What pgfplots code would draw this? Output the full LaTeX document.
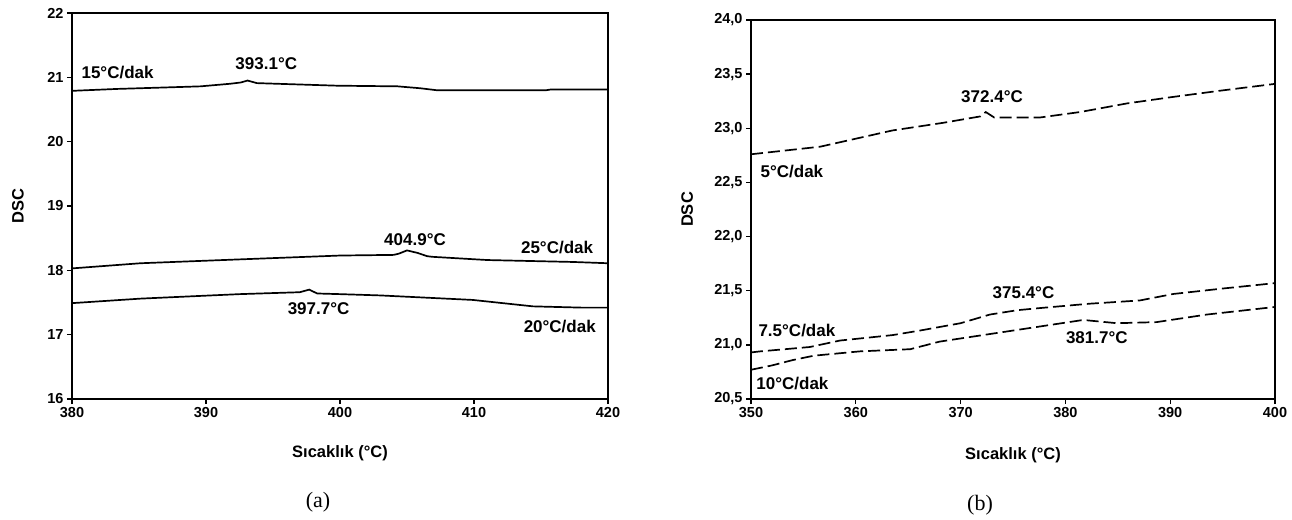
\documentclass[border=0pt]{standalone}
\usepackage{fontspec}
\setmainfont{Liberation Sans}
\newfontfamily\capfont{Liberation Serif}
\usepackage{pgfplots}
\pgfplotsset{compat=1.18}
\pgfplotsset{
  dscstyle/.style={
    scale only axis,
    tick align=outside, xtick pos=bottom, ytick pos=left,
    major tick length=5pt,
    axis line style={line width=1.8pt},
    every tick/.style={black, line width=1.3pt},
    tick label style={font=\fontsize{14.5}{16}\selectfont\bfseries},
    label style={font=\fontsize{16.5}{18}\selectfont\bfseries},
    /pgf/number format/assume math mode=true,
    clip=false,
  },
}
\tikzset{annot/.style={font=\fontsize{17}{19}\selectfont\bfseries, inner sep=0pt}}
\begin{document}
\begin{tikzpicture}[x=1pt,y=1pt]
\path[use as bounding box] (0,0) rectangle (1292,519);
% ---------- (a) ----------
\begin{axis}[dscstyle,
  at={(72pt,120pt)}, anchor=south west,
  width=536pt, height=386pt,
  xmin=380, xmax=420, ymin=16, ymax=22,
  xtick={380,390,400,410,420}, ytick={16,17,18,19,20,21,22},
  xlabel={Sıcaklık (°C)}, ylabel={DSC},
  xlabel style={at={(axis description cs:0.5,-0.14)}, anchor=center},
  ylabel style={at={(axis description cs:-0.101,0.5)}, anchor=center, rotate=0},
]
\addplot[black, line width=1.7pt] coordinates {
(380,20.79)(383.4,20.82)(385,20.83)(388.1,20.85)(389.6,20.86)(391.8,20.90)(392.6,20.92)(393.1,20.95)(393.8,20.91)(396.8,20.89)(399.8,20.87)(404.3,20.86)(406,20.83)(407.2,20.80)(415.4,20.80)(415.7,20.81)(420,20.81)};
\addplot[black, line width=1.7pt] coordinates {
(380,18.03)(385.1,18.11)(392.5,18.17)(400,18.23)(404,18.24)(404.4,18.26)(405.0,18.31)(405.8,18.27)(406.5,18.22)(406.9,18.21)(411,18.16)(417.4,18.13)(420,18.11)};
\addplot[black, line width=1.7pt] coordinates {
(380,17.49)(385.1,17.56)(392.5,17.63)(397,17.66)(397.7,17.70)(398.3,17.64)(400,17.63)(403,17.61)(409.9,17.54)(414.4,17.44)(418.1,17.42)(420,17.42)};
\node[annot, anchor=west] at (axis cs:380.7,21.07) {15°C/dak};
\node[annot] at (axis cs:394.5,21.22) {393.1°C};
\node[annot] at (axis cs:405.6,18.47) {404.9°C};
\node[annot] at (axis cs:416.2,18.36) {25°C/dak};
\node[annot] at (axis cs:398.4,17.41) {397.7°C};
\node[annot] at (axis cs:416.4,17.12) {20°C/dak};
\end{axis}
% ---------- (b) ----------
\begin{axis}[dscstyle,
  at={(751pt,120pt)}, anchor=south west,
  width=524pt, height=379pt,
  xmin=350, xmax=400, ymin=20.5, ymax=24,
  xtick={350,360,370,380,390,400},
  ytick={20.5,21,21.5,22,22.5,23,23.5,24},
  yticklabel style={/pgf/number format/.cd, use comma, fixed, fixed zerofill, precision=1},
  xlabel={Sıcaklık (°C)}, ylabel={DSC},
  xlabel style={at={(axis description cs:0.5,-0.148)}, anchor=center},
  ylabel style={at={(axis description cs:-0.122,0.5)}, anchor=center, rotate=0},
]
\addplot[black, line width=1.7pt, dash pattern=on 12pt off 5pt] coordinates {
(350,22.76)(356.6,22.83)(363.5,22.98)(368.3,23.05)(371.9,23.11)(372.4,23.15)(373.2,23.10)(377.6,23.10)(381.4,23.15)(385.9,23.23)(390.3,23.29)(395,23.35)(400,23.41)};
\addplot[black, line width=1.7pt, dash pattern=on 12pt off 5pt] coordinates {
(350,20.93)(350.9,20.94)(355.6,20.98)(358.5,21.04)(363.5,21.09)(366,21.13)(370,21.20)(372.8,21.28)(375.4,21.32)(377.6,21.34)(382.3,21.38)(387.1,21.41)(390.3,21.47)(395,21.52)(400,21.57)};
\addplot[black, line width=1.7pt, dash pattern=on 12pt off 5pt] coordinates {
(350,20.77)(352,20.81)(354,20.86)(356,20.90)(360.4,20.94)(365.2,20.96)(368,21.03)(372.8,21.10)(377.6,21.17)(381.7,21.23)(384.9,21.20)(388.7,21.21)(393.5,21.28)(400,21.35)};
\node[annot, anchor=west] at (axis cs:350.9,22.60) {5°C/dak};
\node[annot] at (axis cs:373.0,23.29) {372.4°C};
\node[annot, anchor=west] at (axis cs:350.7,21.13) {7.5°C/dak};
\node[annot] at (axis cs:376.0,21.48) {375.4°C};
\node[annot] at (axis cs:383.0,21.07) {381.7°C};
\node[annot, anchor=west] at (axis cs:350.5,20.64) {10°C/dak};
\end{axis}
\node[font=\capfont\fontsize{22}{24}\selectfont] at (318,17) {(a)};
\node[font=\capfont\fontsize{22}{24}\selectfont] at (980,14) {(b)};
\end{tikzpicture}
\end{document}
